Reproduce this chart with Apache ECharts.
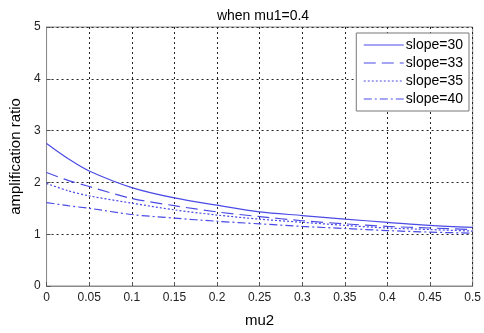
<!DOCTYPE html>
<html>
<head>
<meta charset="utf-8">
<script src="https://cdn.jsdelivr.net/npm/echarts@6/dist/echarts.min.js"></script>
<style>
  html, body { margin: 0; padding: 0; background: #fff; }
  #chart { width: 484px; height: 333px; }
</style>
</head>
<body>
<div id="chart"></div>
<script>
// mu2 sample points
const mu2 = [0, 0.025, 0.05, 0.1, 0.15, 0.2, 0.25, 0.3, 0.35, 0.4, 0.45, 0.5];

const slope30 = [2.75, 2.46, 2.22, 1.9, 1.7, 1.56, 1.43, 1.36, 1.29, 1.23, 1.17, 1.13];
const slope33 = [2.19, 2.04, 1.92, 1.69, 1.55, 1.43, 1.34, 1.26, 1.2, 1.15, 1.12, 1.09];
const slope35 = [1.98, 1.84, 1.74, 1.6, 1.47, 1.37, 1.29, 1.23, 1.17, 1.12, 1.09, 1.06];
const slope40 = [1.61, 1.55, 1.5, 1.38, 1.31, 1.25, 1.2, 1.15, 1.11, 1.07, 1.04, 1.02];

const seriesNames = ['slope=30', 'slope=33', 'slope=35', 'slope=40'];
const xTickLabels = ['0', '0.05', '0.1', '0.15', '0.2', '0.25', '0.3', '0.35', '0.4', '0.45', '0.5'];

const lineColor = '#4b4be6';
const dashes = ['solid', [12, 6], [2, 2], [8, 3, 2, 3]];

const chart = echarts.init(document.getElementById('chart'));

const allValues = [slope30, slope33, slope35, slope40];

chart.setOption({
  animation: false,
  textStyle: { fontFamily: 'Liberation Sans, Arial, sans-serif' },
  title: {
    text: 'when mu1=0.4',
    left: 258,
    top: 4,
    textAlign: 'center',
    textStyle: { fontSize: 14, fontWeight: 'normal', color: '#000' }
  },
  grid: {
    left: 43, right: 10, top: 27, bottom: 41,
    show: true, borderColor: '#8a8a8a', borderWidth: 1, backgroundColor: '#fff'
  },
  legend: {
    orient: 'vertical',
    right: 15,
    top: 33,
    backgroundColor: '#fff',
    borderColor: '#777',
    borderWidth: 1,
    borderRadius: 0,
    padding: [5, 6, 5, 7],
    itemGap: 4,
    itemWidth: 40,
    itemHeight: 14,
    itemStyle: { opacity: 0 },
    lineStyle: { width: 1 },
    textStyle: { fontSize: 14, color: '#000', padding: [0, 0, 0, -3] },
    data: seriesNames
  },
  xAxis: {
    type: 'value',
    min: 0, max: 0.5, interval: 0.05,
    name: 'mu2',
    nameLocation: 'middle',
    nameGap: 27,
    nameTextStyle: { fontSize: 15, color: '#000' },
    axisLine: { show: true, lineStyle: { color: '#8a8a8a' } },
    axisTick: { inside: true, length: 4, lineStyle: { color: '#555' } },
    axisLabel: {
      fontSize: 12, color: '#222', margin: 6,
      formatter: v => xTickLabels[Math.round(v / 0.05)]
    },
    splitLine: { show: true, lineStyle: { color: '#222', type: [2, 3], width: 1 } }
  },
  yAxis: {
    type: 'value',
    min: 0, max: 5, interval: 1,
    name: 'amplification ratio',
    nameLocation: 'middle',
    nameGap: 23,
    nameTextStyle: { fontSize: 15, color: '#000' },
    axisLine: { show: true, lineStyle: { color: '#8a8a8a' } },
    axisTick: { inside: true, length: 4, lineStyle: { color: '#555' } },
    axisLabel: { fontSize: 12, color: '#222', margin: 6 },
    splitLine: { show: true, lineStyle: { color: '#222', type: [2, 3], width: 1 } }
  },
  series: seriesNames.map((name, i) => ({
    name,
    type: 'line',
    smooth: 0.3,
    symbol: 'none',
    data: mu2.map((x, j) => [x, allValues[i][j]]),
    lineStyle: { color: lineColor, width: 1.2, type: dashes[i] },
    itemStyle: { color: lineColor },
    z: 3
  }))
});
</script>
</body>
</html>
